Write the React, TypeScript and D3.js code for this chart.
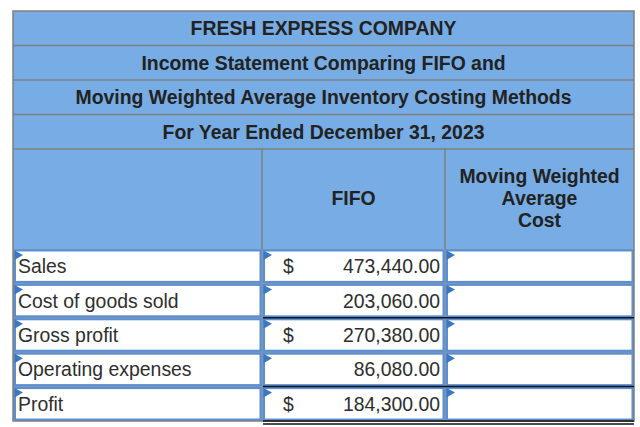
import React from "react";
import * as d3 from "d3";

const titleLines = [
  "FRESH EXPRESS COMPANY",
  "Income Statement Comparing FIFO and",
  "Moving Weighted Average Inventory Costing Methods",
  "For Year Ended December 31, 2023",
];
const columnHeaders = ["", "FIFO", "Moving Weighted|Average|Cost"];
const rowLabels = ["Sales", "Cost of goods sold", "Gross profit", "Operating expenses", "Profit"];
const fifoValues = [473440, 203060, 270380, 86080, 184300];
const dollarRows = [true, false, true, false, true];
const underline = ["none", "single", "none", "single", "double"];

const W = 640;
const H = 427;
const X0 = 13;
const X1 = 262;
const X2 = 445;
const X3 = 634;
const HEADER_BG = "#77ace4";
const GRID = "#7f7f7f";
const INPUT = "#5b8fd4";
const MARK = "#3a78c4";
const FONT = "'Liberation Sans', Arial, sans-serif";
const FS = 19.4;

export default function App() {
  const yTitle = d3.scaleBand<string>().domain(titleLines).range([11, 149]).padding(0);
  const yRow = d3.scaleBand<string>().domain(rowLabels).range([249, 421]).padding(0);
  const fmt = d3.format(",.2f");
  const cols = [
    [X0, X1],
    [X1, X2],
    [X2, X3],
  ];
  const headerTop = 149;
  const headerBottom = 249;

  return (
    <svg
      width={W}
      height={H}
      style={{ position: "absolute", left: 0, top: 0, background: "#fff" }}
      fontFamily={FONT}
    >
      {/* title block */}
      <rect x={X0} y={11} width={X3 - X0} height={headerBottom - 11} fill={HEADER_BG} />
      {titleLines.map((t) => {
        const y = yTitle(t)!;
        const h = yTitle.bandwidth();
        return (
          <g key={t}>
            <line x1={X0} x2={X3} y1={y + h} y2={y + h} stroke={GRID} strokeWidth={1.5} />
            <text
              x={(X0 + X3) / 2}
              y={y + h / 2 + 7}
              textAnchor="middle"
              fontWeight="bold"
              fontSize={FS}
              fill="#222"
            >
              {t}
            </text>
          </g>
        );
      })}
      {/* header column dividers */}
      <line x1={X1} x2={X1} y1={headerTop} y2={headerBottom} stroke={GRID} strokeWidth={1.5} />
      <line x1={X2} x2={X2} y1={headerTop} y2={headerBottom} stroke={GRID} strokeWidth={1.5} />
      {columnHeaders.map((hdr, i) => {
        const lines = hdr ? hdr.split("|") : [];
        const cx = (cols[i][0] + cols[i][1]) / 2;
        const lh = 22;
        const baseY = (headerTop + headerBottom) / 2 + 6 - ((lines.length - 1) * lh) / 2;
        return lines.map((ln, j) => (
          <text
            key={i + "-" + j}
            x={cx}
            y={baseY + j * lh}
            textAnchor="middle"
            fontWeight="bold"
            fontSize={FS}
            fill="#222"
          >
            {ln}
          </text>
        ));
      })}
      {/* data rows */}
      <rect x={X0} y={headerBottom} width={X3 - X0} height={421 - headerBottom} fill="#8096b0" />
      {rowLabels.map((lab, r) => {
        const y = yRow(lab)!;
        const h = yRow.bandwidth();
        return (
          <g key={lab}>
            {cols.map(([a, b], c) => (
              <g key={c}>
                <rect
                  x={a + 2}
                  y={y + 1.5}
                  width={b - a - 3.5}
                  height={h - 3}
                  fill="#fff"
                  stroke={INPUT}
                  strokeWidth={2}
                />
                <path
                  d={`M${a + 1.5},${y + 1.5} L${a + 10},${y + 6} L${a + 1.5},${y + 11} Z`}
                  fill={MARK}
                />
              </g>
            ))}
            <text x={18} y={y + h / 2 + 7} fontSize={FS} fill="#2e2e2e">
              {lab}
            </text>
            {dollarRows[r] && (
              <text x={283} y={y + h / 2 + 7} fontSize={FS} fill="#2e2e2e">
                $
              </text>
            )}
            <text x={440} y={y + h / 2 + 7} textAnchor="end" fontSize={FS} fill="#2e2e2e">
              {fmt(fifoValues[r])}
            </text>
          </g>
        );
      })}
      <rect x={X0} y={11} width={X3 - X0} height={421 - 11} fill="none" stroke={GRID} strokeWidth={1.5} />
      {rowLabels.map((lab, r) => {
        const y = yRow(lab)! + yRow.bandwidth();
        return (
          <g key={"u" + lab}>
            {underline[r] !== "none" && (
              <line x1={X1 + 1} x2={X3} y1={y} y2={y} stroke="#111" strokeWidth={1.5} />
            )}
            {underline[r] === "double" && (
              <line x1={X1 + 1} x2={X3} y1={y + 3} y2={y + 3} stroke="#111" strokeWidth={1.5} />
            )}
          </g>
        );
      })}
    </svg>
  );
}
